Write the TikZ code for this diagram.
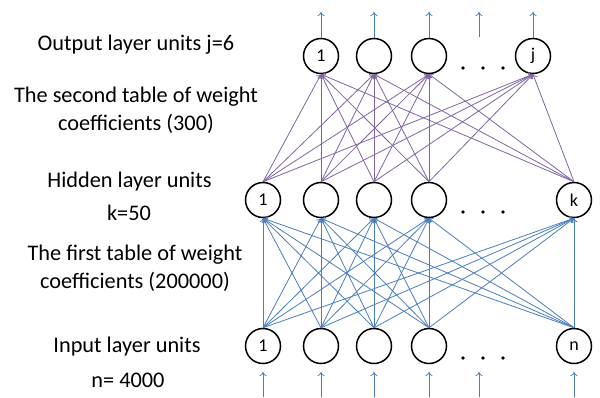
\documentclass[tikz,border=0pt]{standalone}
\usepackage{fontspec}
\setmainfont{Carlito}
\usetikzlibrary{arrows.meta}
\definecolor{edgeblue}{RGB}{74,126,187}
\definecolor{edgepurple}{RGB}{128,100,162}
\begin{document}
\begin{tikzpicture}[x=1pt,y=-1pt,
  unit/.style={circle,draw=black,line width=1.5pt,minimum size=35pt,inner sep=0pt,font=\fontsize{18}{18}\selectfont},
  lbl/.style={font=\fontsize{22.3}{28}\selectfont,align=center,inner sep=0pt},
  bl/.style={draw=edgeblue,line width=0.8pt,-{To[length=4pt,width=7pt]}},
  pl/.style={draw=edgepurple,line width=0.8pt,-{To[length=4pt,width=7pt]}},
  dotsym/.style={circle,fill=black,inner sep=0pt,minimum size=3.8pt}]
\useasboundingbox (0,0) rectangle (600,397);
% output layer
\node[unit] (o1) at (321,56) {1};
\node[unit] (o2) at (374,56) {};
\node[unit] (o3) at (429,56) {};
\node[unit] (oj) at (533,56) {j};
% hidden layer
\node[unit] (h1) at (263,200) {1};
\node[unit] (h2) at (321,200) {};
\node[unit] (h3) at (374,200) {};
\node[unit] (h4) at (429,200) {};
\node[unit] (hk) at (574,200) {k};
% input layer
\node[unit] (i1) at (263,346) {1};
\node[unit] (i2) at (321,346) {};
\node[unit] (i3) at (374,346) {};
\node[unit] (i4) at (429,346) {};
\node[unit] (in) at (574,346) {n};
% dots
\foreach \y/\r in {68/o,212/h,358/i}{
  \node[dotsym] (\r d1) at (463,\y) {};
  \node[dotsym] (\r d2) at (483,\y) {};
  \node[dotsym] (\r d3) at (503,\y) {};
}
% output arrows
\coordinate (ot1) at (321,12);
\coordinate (ot2) at (374,12);
\coordinate (ot3) at (429,12);
\coordinate (ot4) at (479,12);
\coordinate (ob4) at (479,37);
\coordinate (otj) at (533,12);
\draw[bl] (o1.north) -- (ot1);
\draw[bl] (o2.north) -- (ot2);
\draw[bl] (o3.north) -- (ot3);
\draw[bl] (ob4) -- (ot4);
\draw[bl] (oj.north) -- (otj);
% input arrows
\foreach \x/\n in {263/1,321/2,374/3,429/4,479/5,574/6}{
  \coordinate (ib\n) at (\x,397);
  \coordinate (it\n) at (\x,372);
  \draw[bl] (ib\n) -- (it\n);
}
% input -> hidden
\foreach \a in {i1,i2,i3,i4,in}{
  \foreach \b in {h1,h2,h3,h4,hk}{
    \draw[bl] (\a.north) -- (\b.south);
  }
}
% hidden -> output
\foreach \a in {h1,h2,h3,h4,hk}{
  \foreach \b in {o1,o2,o3,oj}{
    \draw[pl] (\a.north) -- (\b.south);
  }
}
% labels
\node[lbl] (t1) at (136,45) {Output layer units j=6};
\node[lbl] (t2) at (136,110) {The second table of weight\\coefficients (300)};
\node[lbl] (t3) at (129.5,182) {Hidden layer units};
\node[lbl] (t4) at (129,213) {k=50};
\node[lbl] (t5) at (135,268) {The first table of weight\\coefficients (200000)};
\node[lbl] (t6) at (127,347) {Input layer units};
\node[lbl] (t7) at (128,380) {n= 4000};
\end{tikzpicture}
\end{document}
